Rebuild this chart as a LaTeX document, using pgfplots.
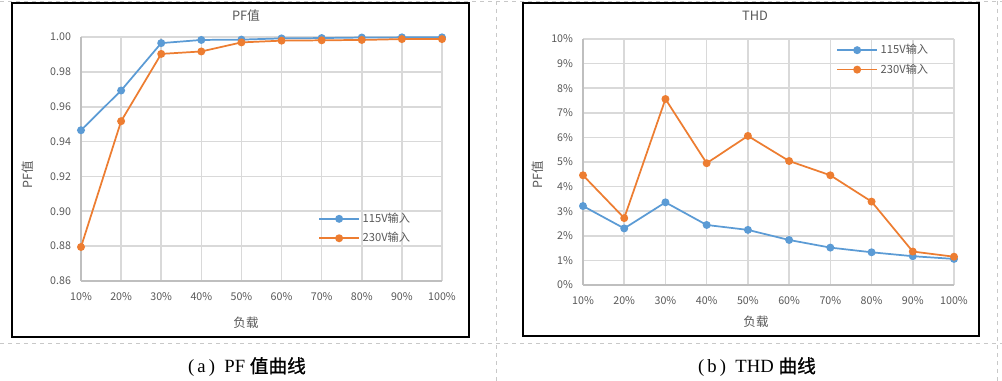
\documentclass[border=0pt]{standalone}
\usepackage{fontspec}
\setmainfont{Noto Sans CJK SC}
\newfontfamily\capserif{Liberation Serif}
\newfontfamily\capcjk[FakeBold=1]{Noto Sans CJK SC}
\usepackage{pgfplots}
\pgfplotsset{compat=1.18}
\definecolor{sblue}{HTML}{5B9BD5}
\definecolor{sorange}{HTML}{ED7D31}
\definecolor{gridc}{HTML}{D9D9D9}
\definecolor{axc}{HTML}{BFBFBF}
\definecolor{txt}{HTML}{595959}
\definecolor{dashc}{HTML}{C8C8C8}
\pgfplotsset{mystyle/.style={
  scale only axis,
  xmin=1, xmax=10,
  xtick={1,2,3,4,5,6,7,8,9,10},
  xticklabels={10\%,20\%,30\%,40\%,50\%,60\%,70\%,80\%,90\%,100\%},
  axis x line*=bottom, axis y line*=left,
  axis line style={axc, line width=1.2pt, -},
  major grid style={gridc, line width=1.2pt},
  grid=major,
  major tick length=0pt,
  tick label style={font=\fontsize{8}{9}\selectfont, text=txt},
  /pgf/number format/assume math mode=true,
  xticklabel style={yshift=-5pt},
  yticklabel style={xshift=-4pt},
  legend style={draw=none, fill=none, inner sep=0pt, font=\fontsize{8.4}{9}\selectfont, text=txt, row sep=2pt},
  legend cell align=left,
  legend image code/.code={\draw[mark repeat=2,mark phase=2] plot coordinates {(0pt,0pt)(15pt,0pt)(30pt,0pt)};},
  every axis plot/.append style={line width=1.3pt, mark=*, mark size=2.3pt, mark options={solid}},
  clip=false,
}}
\begin{document}
\begin{tikzpicture}
\path[use as bounding box, fill=white] (0,0) rectangle (751.5pt,285.75pt);
% dashed separators
\draw[dashc, dashed, line width=0.6pt] (0,285pt) -- (751.5pt,285pt);
\draw[dashc, dashed, line width=0.6pt] (0,28.5pt) -- (751.5pt,28.5pt);
\draw[dashc, dashed, line width=0.6pt] (372pt,0) -- (372pt,285.75pt);
\draw[dashc, dashed, line width=0.6pt] (747.75pt,0) -- (747.75pt,285.75pt);
% frames
\draw[black, line width=0.85pt] (9pt,33pt) rectangle (351.75pt,283.5pt);
\draw[black, line width=0.85pt] (392.25pt,33.75pt) rectangle (734.25pt,283.5pt);

\begin{axis}[mystyle,
  at={(60.75pt,75pt)}, anchor=south west,
  width=270.75pt, height=183pt,
  ymin=0.86, ymax=1.00,
  ytick={0.86,0.88,0.90,0.92,0.94,0.96,0.98,1.00},
  yticklabels={0.86,0.88,0.90,0.92,0.94,0.96,0.98,1.00},
  legend style={at={(0.6565,0.215)}, anchor=west},
]
\addplot[sblue] coordinates {(1,0.9465)(2,0.9693)(3,0.9965)(4,0.9983)(5,0.9985)(6,0.9992)(7,0.9994)(8,0.9997)(9,0.9998)(10,0.9998)};
\addlegendentry{115V输入}
\addplot[sorange] coordinates {(1,0.8795)(2,0.9517)(3,0.9903)(4,0.9917)(5,0.9969)(6,0.9979)(7,0.9981)(8,0.9983)(9,0.9988)(10,0.9988)};
\addlegendentry{230V输入}
\end{axis}

\begin{axis}[mystyle,
  at={(437.25pt,72pt)}, anchor=south west,
  width=278.25pt, height=184.5pt,
  ymin=0, ymax=10,
  ytick={0,1,2,3,4,5,6,7,8,9,10},
  yticklabels={0\%,1\%,2\%,3\%,4\%,5\%,6\%,7\%,8\%,9\%,10\%},
  legend style={at={(0.682,0.915)}, anchor=west},
]
\addplot[sblue] coordinates {(1,3.21)(2,2.30)(3,3.36)(4,2.44)(5,2.24)(6,1.83)(7,1.52)(8,1.33)(9,1.17)(10,1.06)};
\addlegendentry{115V输入}
\addplot[sorange] coordinates {(1,4.46)(2,2.72)(3,7.56)(4,4.95)(5,6.06)(6,5.04)(7,4.46)(8,3.39)(9,1.36)(10,1.15)};
\addlegendentry{230V输入}
\end{axis}

% titles and labels
\node[text=txt, font=\fontsize{9.6}{11}\selectfont] at (184.5pt,273.75pt) {PF值};
\node[text=txt, font=\fontsize{9.4}{11}\selectfont] at (184.5pt,43.5pt) {负载};
\node[text=txt, font=\fontsize{9.4}{11}\selectfont, rotate=90] at (21pt,154.5pt) {PF值};
\node[text=txt, font=\fontsize{9.6}{11}\selectfont] at (566.25pt,273.75pt) {THD};
\node[text=txt, font=\fontsize{9.4}{11}\selectfont] at (567pt,44.25pt) {负载};
\node[text=txt, font=\fontsize{9.4}{11}\selectfont, rotate=90] at (403.5pt,154.5pt) {PF值};
% captions
\node[font=\fontsize{14}{16}\selectfont] at (185.25pt,10.5pt) {{\capserif (\,a\,)\hspace{0.5em}PF\hspace{0.25em}}{\capcjk 值曲线}};
\node[font=\fontsize{14}{16}\selectfont] at (567.75pt,10.5pt) {{\capserif (\,b\,)\hspace{0.5em}THD\hspace{0.25em}}{\capcjk 曲线}};
\end{tikzpicture}
\end{document}
